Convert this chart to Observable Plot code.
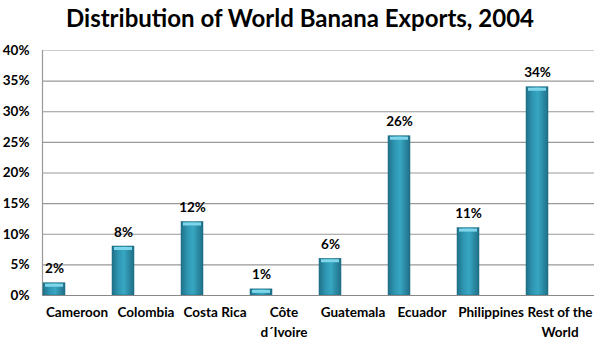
<!DOCTYPE html>
<html><head><meta charset="utf-8">
<script src="https://cdn.jsdelivr.net/npm/d3@7"></script>
<script src="https://cdn.jsdelivr.net/npm/@observablehq/plot@0.6"></script>
<style>
body{margin:0;background:#fff;font-family:Lato,"Open Sans",sans-serif;}
#title{height:38px;line-height:36px;text-align:center;font-weight:bold;font-size:24px;color:#000;}
</style></head>
<body>
<div id="title">Distribution of World Banana Exports, 2004</div>
<div id="chart"></div>
<script>
const categories = ["Cameroon","Colombia","Costa Rica","Côte d´Ivoire","Guatemala","Ecuador","Philippines","Rest of the World"];
const tickLabels = ["Cameroon","Colombia","Costa Rica","Côte\nd´Ivoire","Guatemala","Ecuador","Philippines","Rest of the\nWorld"];
const shares = [2,8,12,1,6,26,11,34];
const yTicks = [0,5,10,15,20,25,30,35,40];

const data = categories.map((c,i)=>({category:c, value:shares[i]}));
const labelOf = new Map(categories.map((c,i)=>[c,tickLabels[i]]));

const W = 600, ML = 42, MR = 6;
const band = (W-ML-MR)/categories.length;
const barW = 22;
const insetL = 1, insetR = band - insetL - barW;
const center = -band/2 + insetL + barW/2;

const chart = Plot.plot({
  width: W, height: 305,
  marginLeft: ML, marginRight: MR, marginTop: 12, marginBottom: 48,
  style:{fontFamily:"Lato, 'Open Sans', sans-serif", fontWeight:"bold", fontSize:"13.5px", color:"#000", background:"#fff"},
  x:{domain:categories, padding:0, label:null},
  y:{domain:[0,40], label:null},
  marks:[
    Plot.ruleY(yTicks.filter(t=>t>0 && t<40), {stroke:"#999", strokeWidth:1.2}),
    Plot.ruleY([40], {stroke:"#ccc", strokeWidth:1.2}),
    Plot.ruleX([categories[0]], {y1:0, y2:40, stroke:"#999", strokeWidth:1.2, dx:-band/2}),
    Plot.barY(data, {x:"category", y:"value", fill:"url(#barGrad)", insetLeft:insetL, insetRight:insetR, stroke:"#1d6a80", strokeWidth:0.5}),
    Plot.tickY(data, {x:"category", y:"value", stroke:"#7fd6ea", strokeWidth:3, insetLeft:insetL+2, insetRight:insetR+2, dy:2}),
    Plot.ruleY([0], {stroke:"#888", strokeWidth:1.2}),
    Plot.text(data, {x:"category", y:"value", text:d=>d.value+"%", dx:center, dy:-10, lineAnchor:"bottom", fontSize:13.5, fontWeight:"bold", fill:"#000"}),
    Plot.axisY({ticks:yTicks, tickFormat:d=>d+"%", tickSize:0, tickPadding:13, fontSize:13.5, fontWeight:"bold", label:null}),
    Plot.axisX({tickFormat:d=>labelOf.get(d), tickSize:0, tickPadding:8, lineHeight:1.45, fontSize:13.5, fontWeight:"bold", label:null})
  ]
});
const svgns = "http://www.w3.org/2000/svg";
const defs = document.createElementNS(svgns,"defs");
defs.innerHTML = '<linearGradient id="barGrad" x1="0" x2="1" y1="0" y2="0">'+
 '<stop offset="0" stop-color="#1f7189"/><stop offset="0.3" stop-color="#2f97b3"/>'+
 '<stop offset="0.55" stop-color="#38a6c2"/><stop offset="1" stop-color="#1f6e86"/></linearGradient>';
chart.insertBefore(defs, chart.firstChild);
document.getElementById("chart").appendChild(chart);
</script>
</body></html>
